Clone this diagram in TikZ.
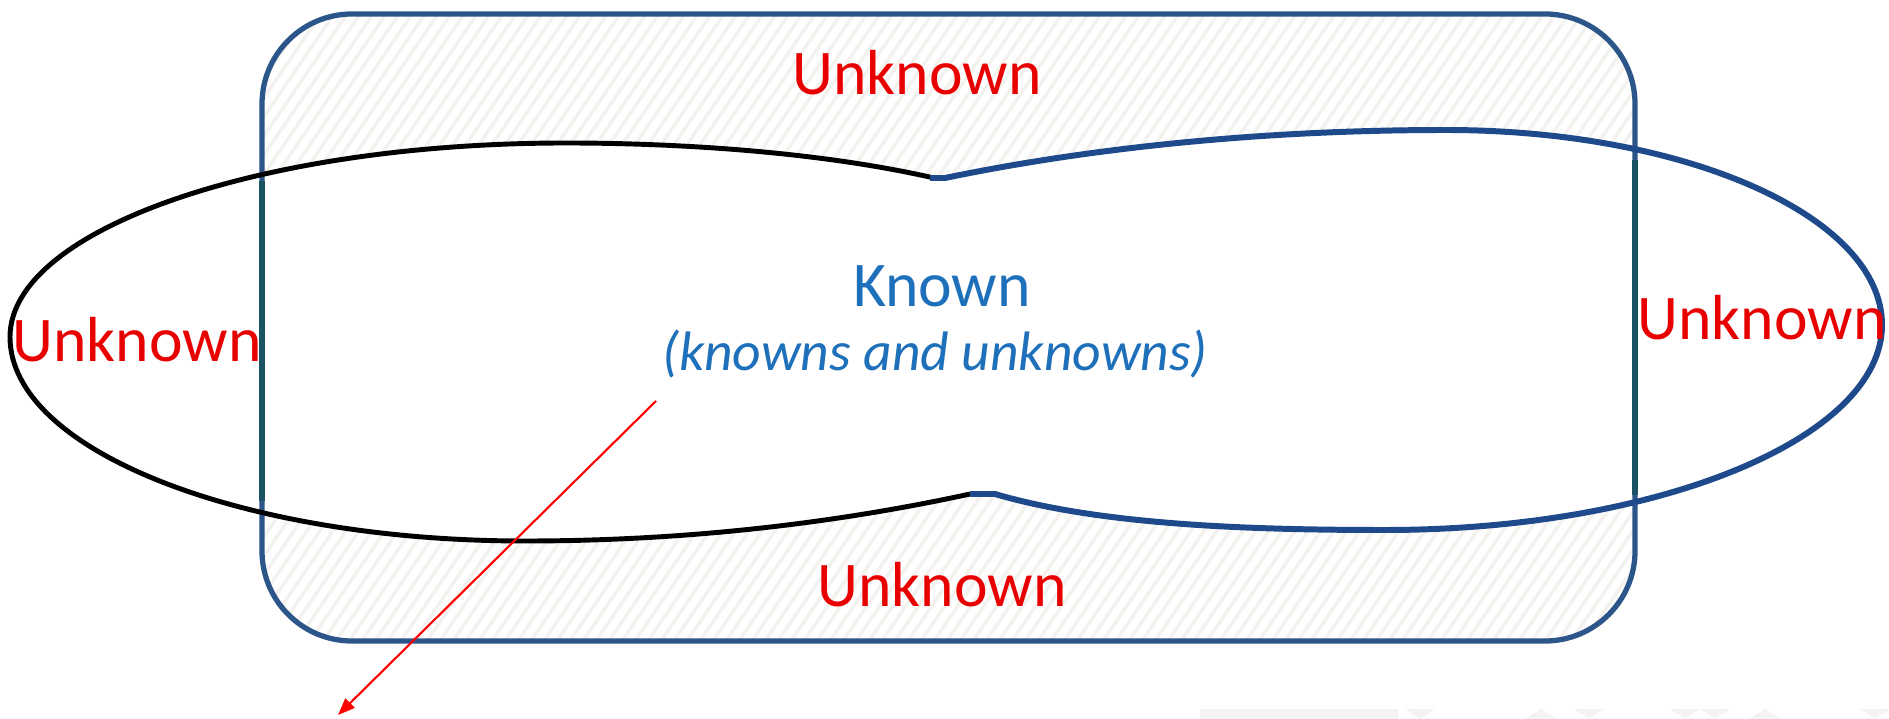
\documentclass[tikz,border=0pt]{standalone}
\usepackage{fontspec}
\setmainfont{Carlito}
\usetikzlibrary{arrows.meta}
\definecolor{boxblue}{RGB}{44,86,138}
\definecolor{lobeblue}{RGB}{30,74,140}
\definecolor{edgeteal}{RGB}{26,84,100}
\definecolor{hatchgray}{RGB}{244,242,238}
\definecolor{unkred}{RGB}{232,0,0}
\definecolor{knownblue}{RGB}{30,112,186}
\definecolor{wmgray}{RGB}{243,243,243}
\tikzset{
    frame/.style = {draw=boxblue, line width=1.5pt, rounded corners=0.9cm},
    hatch/.style = {draw=hatchgray, line width=1pt},
    lobel/.style = {draw=black, line width=1.4pt},
    lober/.style = {draw=lobeblue, line width=1.7pt},
    tealedge/.style = {draw=edgeteal, line width=1.7pt},
    unk/.style = {text=unkred, anchor=base, inner sep=0pt, font=\fontsize{18.1}{21}\selectfont},
    known/.style = {text=knownblue, anchor=base, inner sep=0pt, font=\fontsize{18.1}{21}\selectfont},
    knownsub/.style = {text=knownblue, anchor=base, inner sep=0pt, font=\fontsize{15.8}{18}\selectfont\itshape},
    pointer/.style = {draw=red, line width=0.6pt, -{Triangle[length=0.17cm,width=0.13cm]}},
    wmark/.style = {fill=wmgray}
}

\begin{document}
\begin{tikzpicture}[x=0.01cm, y=-0.01cm]
  \useasboundingbox (0,0) rectangle (1889,719);
  % hatched frame
  \begin{scope}
    \clip[rounded corners=0.9cm] (262,14) rectangle (1635,641);
    \foreach \i in {-470,-457,...,1640}
      \draw[hatch] (\i,660) -- ++(470,-690);
  \end{scope}
  % the two lobes, filled white
  \fill[white] (934,178) .. controls (820,152) and (680,143) .. (566,143)
    .. controls (259,143) and (10,230) .. (10,337)
    .. controls (10,450) and (240,541) .. (525,541)
    .. controls (700,541) and (850,520) .. (970,494)
    -- (995,494)
    .. controls (1100,525) and (1250,530) .. (1385,530)
    .. controls (1659,530) and (1882,438) .. (1882,325)
    .. controls (1882,217) and (1687,130) .. (1446,130)
    .. controls (1250,130) and (1080,150) .. (945,178)
    -- cycle;
  \draw[frame] (262,14) rectangle (1635,641);
  \draw[lobel] (934,178) .. controls (820,152) and (680,143) .. (566,143)
    .. controls (259,143) and (10,230) .. (10,337)
    .. controls (10,450) and (240,541) .. (525,541)
    .. controls (700,541) and (850,520) .. (970,494);
  \draw[lober] (970,494) -- (995,494)
    .. controls (1100,525) and (1250,530) .. (1385,530)
    .. controls (1659,530) and (1882,438) .. (1882,325)
    .. controls (1882,217) and (1687,130) .. (1446,130)
    .. controls (1250,130) and (1080,150) .. (945,178) -- (930,178);
  \draw[tealedge] (262,181) -- (262,501);
  \draw[tealedge] (1635,160) -- (1635,495);

  \node[unk] (unktop) at (917,95) {Unknown};
  \node[unk] (unkleft) at (137,362) {Unknown};
  \node[unk] (unkright) at (1762,340) {Unknown};
  \node[unk] (unkbot) at (942,606) {Unknown};
  \node[known] (known) at (942,307) {Known};
  \node[knownsub] (knownsub) at (935,371) {(knowns and unknowns)};

  \coordinate (ptail) at (656,401);
  \coordinate (ptip) at (338,715);
  \draw[pointer] (ptail) -- (ptip);

  % faint marks along the bottom edge
  \fill[wmark] (1200,709) rectangle (1398,719);
  \foreach \x in {1405,1574,1670,1700,1860}
    \fill[wmark] (\x,709) -- ++(30,0) -- ++(-15,10) -- cycle;
  \foreach \x in {1525,1749}
    \fill[wmark] (\x,719) -- ++(32,0) -- ++(-16,-10) -- cycle;
\end{tikzpicture}
\end{document}
